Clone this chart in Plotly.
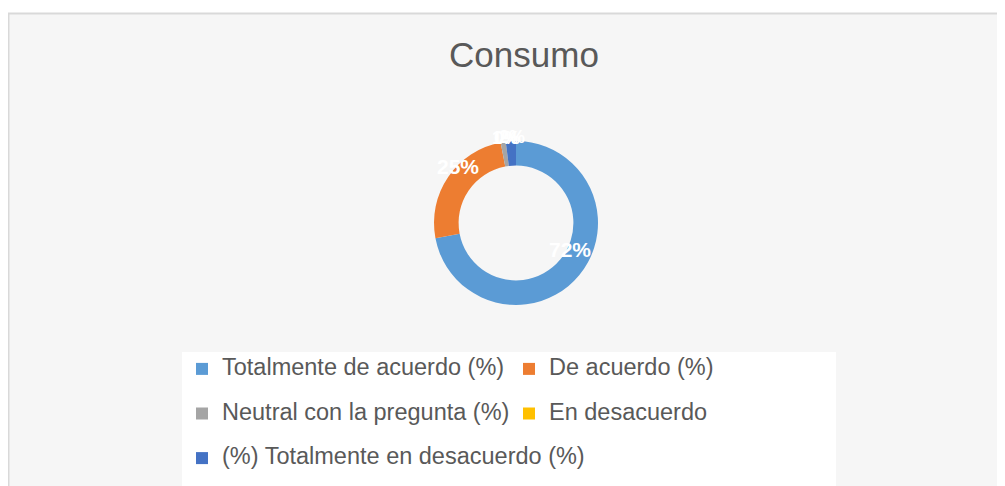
import math
import plotly.graph_objects as go

labels = [
    "Totalmente de acuerdo (%)",
    "De acuerdo (%)",
    "Neutral con la pregunta (%)",
    "En desacuerdo",
    "(%) Totalmente en desacuerdo (%)",
]
values = [72, 25, 1, 0, 2]
colors = ["#5B9BD5", "#ED7D31", "#A5A5A5", "#FFC000", "#4472C4"]
title_text = "Consumo"

# the page body adds an 8px margin, so the figure is 8px smaller than the window
W, H = 997, 478
L, R, T, B = 178, 159, 133, 181
pw, ph = W - L - R, H - T - B
HOLE = 0.70

legend_labels = [
    "<span style='font-size:23.5px'>%s</span><br> " % s for s in labels
]

fig = go.Figure(
    go.Pie(
        labels=legend_labels,
        values=values,
        sort=False,
        direction="clockwise",
        rotation=0,
        hole=HOLE,
        marker=dict(colors=colors, line=dict(width=0)),
        textinfo="none",
        hoverinfo="label+percent",
    )
)

# data labels at the middle of each slice (angles derived from the values)
total = float(sum(values))
r_px = min(pw, ph) / 2.0
r_mid = r_px * (1 + HOLE) / 2.0
cum = 0.0
for v in values:
    mid = (cum + v / 2.0) / total * 2 * math.pi
    cum += v
    pct = round(v / total * 100)
    fig.add_annotation(
        xref="paper", yref="paper",
        x=0.5 + r_mid * math.sin(mid) / pw,
        y=0.5 + r_mid * math.cos(mid) / ph,
        text="<b>%d%%</b>" % pct,
        showarrow=False, xanchor="center", yanchor="bottom", yshift=4,
        font=dict(family="Liberation Sans, Arial", size=21 if v >= 5 else 18,
                  color="white"),
    )

# chart-area frame (decor)
fig.add_shape(
    type="rect", xref="paper", yref="paper", layer="below",
    x0=(0.5 - L) / pw, x1=(W + 10 - L) / pw,
    y0=(H - B - (H + 10)) / ph, y1=(H - B - 5.5) / ph,
    fillcolor="#f6f6f6", line=dict(color="#d9d9d9", width=2),
)

fig.update_layout(
    width=W, height=H,
    margin=dict(l=L, r=R, t=T, b=B, autoexpand=False),
    paper_bgcolor="white",
    plot_bgcolor="rgba(0,0,0,0)",
    font=dict(family="Liberation Sans, Arial", color="#595959"),
    title=dict(
        text=title_text, xref="container", yref="container",
        x=516 / W, y=1 - 47 / H, xanchor="center", yanchor="middle",
        font=dict(size=35, color="#595959"),
    ),
    legend=dict(
        orientation="h",
        x=(174 - L) / pw, xanchor="left",
        y=(H - B - 344) / ph, yanchor="top",
        bgcolor="white",
        entrywidth=282,
        valign="top",
        font=dict(size=16, color="#595959"),
        traceorder="normal",
    ),
)

fig.write_html("out.html")
